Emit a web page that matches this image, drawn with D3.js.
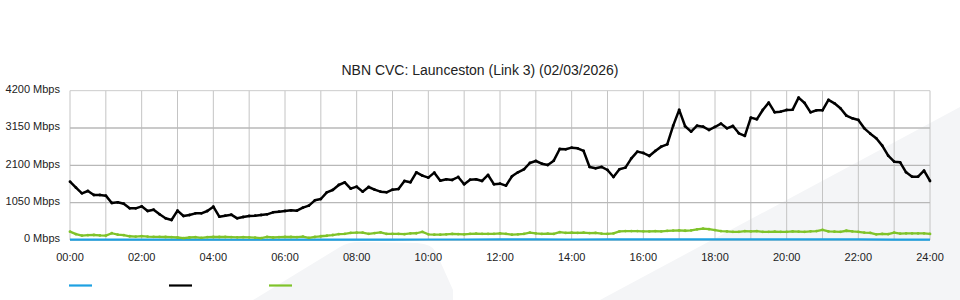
<!DOCTYPE html>
<html>
<head>
<meta charset="utf-8">
<script src="https://cdn.jsdelivr.net/npm/d3@7"></script>
<style>
    body { margin: 0; background: #fff; }
    svg { display: block; font-family: "Liberation Sans", Arial, sans-serif; }
</style>
</head>
<body>
<div id="chart"></div>
<script>
// readings every 10 minutes from 00:00 to 24:00 (Mbps)
var stepMinutes = 10;

var blackSeries = [
    1641, 1472, 1313, 1378, 1266, 1266, 1247, 1041, 1060, 1022, 891, 891,
    947, 816, 853, 722, 610, 563, 825, 675, 703, 750, 750, 816,
    938, 656, 685, 713, 610, 647, 675, 685, 703, 722, 778, 797,
    816, 835, 825, 910, 966, 1116, 1153, 1341, 1407, 1547, 1622, 1444,
    1500, 1360, 1491, 1416, 1360, 1341, 1416, 1435, 1660, 1622, 1904, 1810,
    1754, 1894, 1669, 1707, 1688, 1772, 1566, 1697, 1707, 1660, 1829, 1566,
    1585, 1528, 1791, 1904, 1988, 2166, 2222, 2147, 2110, 2232, 2560, 2551,
    2597, 2579, 2504, 2054, 2016, 2054, 1969, 1772, 1988, 2035, 2297, 2485,
    2447, 2363, 2504, 2626, 2691, 3216, 3660, 3198, 3048, 3216, 3188, 3094,
    3179, 3273, 3141, 3207, 3001, 2926, 3441, 3394, 3657, 3863, 3591, 3610,
    3657, 3666, 4004, 3854, 3591, 3648, 3648, 3940, 3845, 3704, 3498, 3423,
    3376, 3141, 2991, 2860, 2654, 2372, 2204, 2185, 1904, 1782, 1782, 1950,
    1660
];

var greenSeries = [
    234, 165, 125, 135, 140, 130, 125, 190, 150, 135, 105, 95,
    110, 95, 90, 90, 85, 80, 70, 55, 70, 80, 60, 80,
    85, 85, 85, 80, 75, 80, 75, 65, 50, 85, 70, 80,
    90, 85, 80, 95, 60, 85, 105, 120, 140, 165, 175, 200,
    205, 205, 175, 195, 215, 170, 170, 170, 165, 185, 190, 230,
    160, 150, 150, 160, 170, 165, 160, 175, 180, 175, 170, 175,
    185, 175, 150, 160, 170, 210, 185, 170, 180, 170, 220, 200,
    205, 200, 205, 195, 200, 180, 170, 185, 240, 250, 250, 250,
    245, 240, 250, 240, 255, 265, 270, 260, 270, 300, 320, 305,
    280, 250, 240, 230, 230, 250, 240, 250, 230, 230, 235, 230,
    230, 240, 235, 230, 245, 250, 285, 240, 235, 230, 260, 240,
    230, 210, 200, 160, 170, 165, 210, 180, 185, 185, 185, 185,
    170
];

// hourly readings for the blue series
var blueSeries = [
    12, 10, 9, 8, 8, 7, 8, 10, 12, 13, 14, 14, 15,
    15, 14, 15, 16, 17, 18, 18, 17, 16, 15, 13, 12
];

var yTicks = [0, 1050, 2100, 3150, 4200];
var xTickLabels = ["00:00", "02:00", "04:00", "06:00", "08:00", "10:00", "12:00",
    "14:00", "16:00", "18:00", "20:00", "22:00", "24:00"];
var chartTitle = "NBN CVC: Launceston (Link 3) (02/03/2026)";

(function () {
    var width = 960, height = 300;
    var plotLeft = 70, plotRight = 930, plotTop = 90.67, plotBottom = 240;

    var svg = d3.select("#chart").append("svg").attr("width", width).attr("height", height);

    // faint background watermark
    svg.append("path")
        .attr("d", "M253,300 L340,247 Q348,242 360,242 L417,243 Q432,244 436,252 L453,290 L453,300 Z")
        .attr("fill", "#f4f5f7");
    svg.append("path")
        .attr("d", "M600,300 L960,107 L960,300 Z")
        .attr("fill", "#f4f5f7");

    var x = d3.scaleLinear().domain([0, 24 * 60]).range([plotLeft, plotRight]);
    var y = d3.scaleLinear().domain([0, 4200]).range([plotBottom, plotTop]);

    function toMinutes(label) {
        var p = label.split(":");
        return (+p[0]) * 60 + (+p[1]);
    }

    // vertical grid every hour
    var g = svg.append("g");
    g.selectAll(".vgrid").data(d3.range(0, 25)).enter().append("line")
        .attr("x1", d => x(d * 60)).attr("x2", d => x(d * 60))
        .attr("y1", plotTop).attr("y2", plotBottom)
        .attr("stroke", "#c4c4c4").attr("stroke-width", 1);

    g.selectAll(".hgrid").data(yTicks).enter().append("line")
        .attr("x1", plotLeft).attr("x2", plotRight)
        .attr("y1", d => y(d)).attr("y2", d => y(d))
        .attr("stroke", d => d === 4200 ? "#cccccc" : "#b8b8b8")
        .attr("stroke-width", d => d === 4200 ? 1 : 1.4);

    // axis labels
    svg.selectAll(".ylab").data(yTicks).enter().append("text")
        .attr("x", 60).attr("y", d => y(d) - 1.5)
        .attr("dy", "0.35em")
        .attr("text-anchor", "end")
        .attr("font-size", 11)
        .attr("fill", "#222")
        .text(d => d + " Mbps");

    svg.selectAll(".xlab").data(xTickLabels).enter().append("text")
        .attr("x", d => x(toMinutes(d)))
        .attr("y", 261)
        .attr("text-anchor", "middle")
        .attr("font-size", 11)
        .attr("fill", "#222")
        .text(d => d);

    svg.append("text")
        .attr("x", 480).attr("y", 75)
        .attr("text-anchor", "middle")
        .attr("font-size", 14)
        .attr("fill", "#222")
        .text(chartTitle);

    var line = d3.line().x(d => x(d[0])).y(d => y(d[1]));

    function drawSeries(values, step, color, w, dots) {
        var pts = values.map((v, i) => [i * step, v]);
        svg.append("path").datum(pts)
            .attr("fill", "none")
            .attr("stroke", color)
            .attr("stroke-width", w)
            .attr("stroke-linejoin", "round")
            .attr("d", line);
        if (dots) {
            svg.append("g").selectAll("circle").data(pts).enter().append("circle")
                .attr("cx", d => x(d[0])).attr("cy", d => y(d[1]))
                .attr("r", 1.4).attr("fill", color);
        }
    }

    drawSeries(blueSeries, 60, "#1da1e2", 2.2, false);
    drawSeries(greenSeries, stepMinutes, "#7fc32a", 2.3, true);
    drawSeries(blackSeries, stepMinutes, "#000000", 2.5, true);

    // legend swatches (no labels in the original)
    var legendColors = ["#1da1e2", "#000000", "#7fc32a"];
    svg.selectAll(".leg").data(legendColors).enter().append("line")
        .attr("x1", (d, i) => 69 + i * 100).attr("x2", (d, i) => 92 + i * 100)
        .attr("y1", 285.5).attr("y2", 285.5)
        .attr("stroke", d => d).attr("stroke-width", 2.2);
})();
</script>
</body>
</html>
